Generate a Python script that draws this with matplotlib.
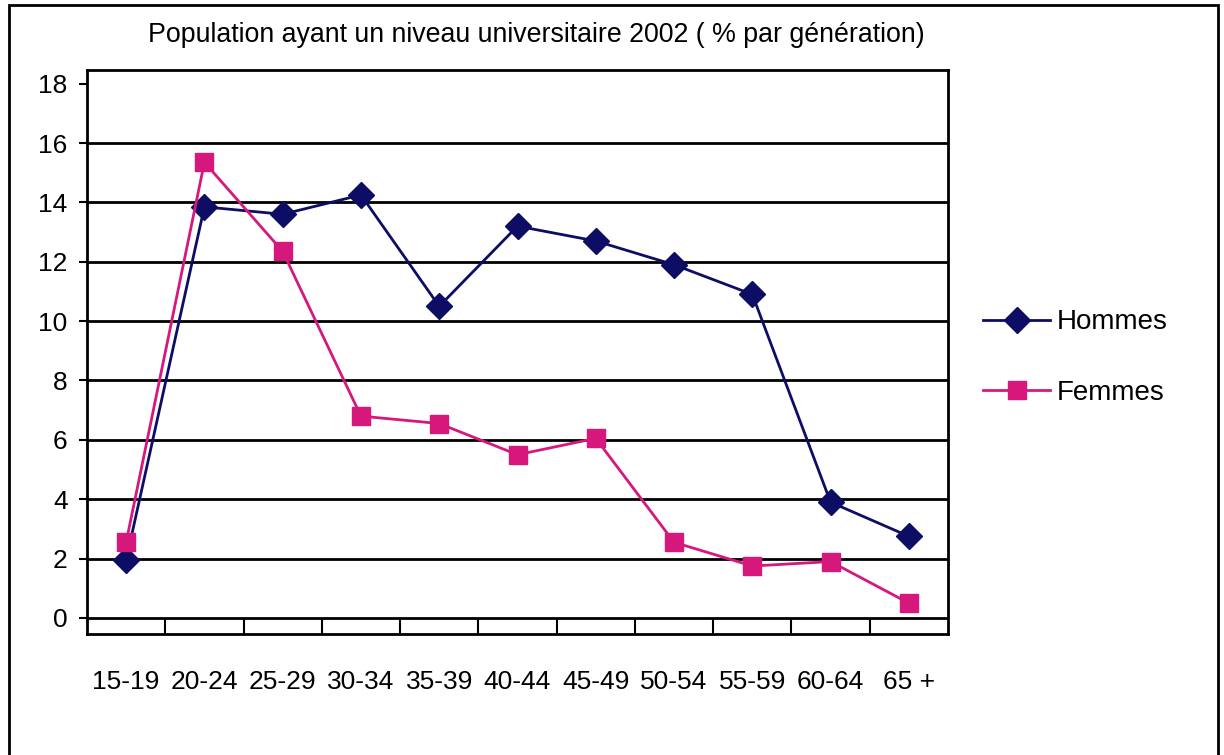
import matplotlib
matplotlib.use('Agg')
import matplotlib.pyplot as plt
from matplotlib.patches import Rectangle
import numpy as np

# données
categories = ['15-19', '20-24', '25-29', '30-34', '35-39', '40-44',
              '45-49', '50-54', '55-59', '60-64', '65 +']
hommes = [1.95, 13.85, 13.6, 14.25, 10.5, 13.2, 12.7, 11.9, 10.9, 3.9, 2.75]
femmes = [2.55, 15.35, 12.35, 6.8, 6.55, 5.5, 6.05, 2.55, 1.75, 1.9, 0.5]
yticks = [0, 2, 4, 6, 8, 10, 12, 14, 16, 18]

plt.rcParams['font.family'] = ['Liberation Sans', 'DejaVu Sans']

fig = plt.figure(figsize=(12.24, 7.55), dpi=100)
ax = fig.add_axes([87 / 1224, 1 - 634 / 755, (948 - 87) / 1224, (634 - 70) / 755])

x = np.arange(len(categories))
ax.plot(x, hommes, color='#0d0d66', lw=2, marker='D', markersize=13,
        label='Hommes')
ax.plot(x, femmes, color='#d6187c', lw=2, marker='s', markersize=13,
        label='Femmes')

# grille horizontale
for v in yticks[:-1]:
    ax.axhline(v, color='black', lw=2, zorder=0.5)

ax.set_xlim(-0.5, len(categories) - 0.5)
ax.set_ylim(-0.54, 18.46)
ax.set_yticks(yticks)
ax.set_yticklabels([str(v) for v in yticks], fontsize=19)
ax.tick_params(axis='y', length=6, width=1.5, pad=8)

ax.set_xticks(x)
ax.set_xticklabels(categories, fontsize=19)
ax.tick_params(axis='x', which='major', length=0, pad=26)
ax.set_xticks(np.arange(0.5, len(categories) - 0.5), minor=True)
ax.tick_params(axis='x', which='minor', direction='in', length=11, width=1.5)

for s in ax.spines.values():
    s.set_linewidth(2)

ax.legend(loc='center left', bbox_to_anchor=(1.012, 0.49), frameon=False,
          fontsize=20, handlelength=2.4, labelspacing=1.6, handletextpad=0.25)

fig.text(536 / 1224, 1 - 35 / 755, 'Population ayant un niveau universitaire 2002 ( % par génération)',
         ha='center', va='center', fontsize=19.3)

fig.patches.append(Rectangle((9 / 1224, -0.02), (1218 - 9) / 1224, 1.02 - 5 / 755,
                             transform=fig.transFigure, fill=False, lw=2,
                             edgecolor='black'))

fig.savefig('out.png', dpi=100)
